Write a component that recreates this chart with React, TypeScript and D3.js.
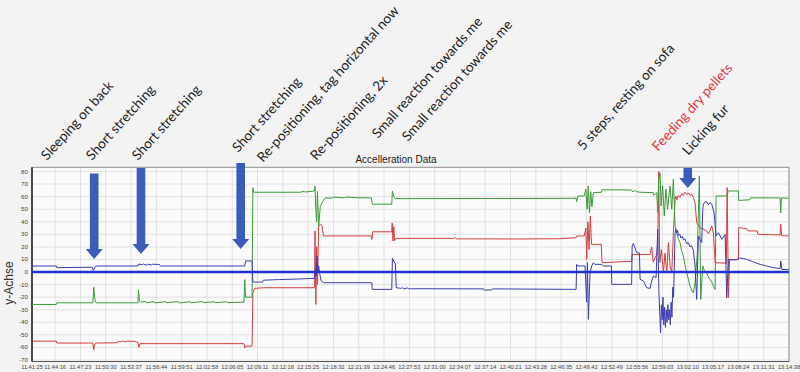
import React from "react";
import * as d3 from "d3";

// minutes after 11:41:25, value
const blueTrace: [number, number][] = [
  [0, 4.8], [3.0, 4.8], [3.05, 3.5], [7.4, 3.8], [7.55, 1.2], [7.75, 4], [8, 4.8], [13.05, 4.8], [13.15, 6.3],
  [13.6, 5.9], [13.7, 6.4], [14.1, 5.4], [14.2, 6.3], [14.7, 5.6], [14.8, 6.2], [15.7, 6], [15.8, 4.8],
  [26.2, 4.8], [26.3, 8.8], [27.1, 8.8], [27.2, -8], [28.4, -8], [28.5, -6.5], [30.5, -6], [33, -5.5], [34.8, -5],
  [34.9, 2], [35, -3], [35.1, 12.7], [35.2, 0], [35.3, 5], [35.45, -2], [35.6, -7], [35.9, -8.5], [41.85, -8.5],
  [41.9, -13.8], [44.3, -13.8], [44.38, 10.9], [44.6, 8], [44.75, 6.5], [44.85, -12.5], [45.5, -13], [45.6, -12.3],
  [45.8, -13.5], [46.2, -12.6], [46.4, -13.4], [47, -13.3], [55.6, -13.4], [55.7, -14.4], [56.6, -14.2],
  [56.7, -13.4], [67, -13.8], [67.07, 6.1], [67.2, 4.8], [68.1, 4.8], [68.3, -24], [68.4, 7.4], [68.51, -37.7],
  [68.72, -0.5], [68.92, 4.8], [69.13, 7.4], [69.3, 6.1], [70.16, 6.1], [70.36, 4.8], [71.35, 4.8], [71.39, -9.8],
  [73.84, -9.8], [73.9, 20.7], [74.05, 22.8], [74.46, 15.4], [74.8, 15], [74.88, -5.8], [75.3, -7.2], [75.7, -12.5],
  [76.11, -13], [76.3, -7.2], [76.52, -3.2], [76.85, -4.5], [77.05, 34], [77.2, -16.5], [77.4, -48.3], [77.5, -26],
  [77.6, -38], [77.7, -20], [77.8, -42], [77.9, -28], [78, -44], [78.1, -30], [78.2, -40], [78.3, -26], [78.4, -38],
  [78.5, -30], [78.6, -42], [78.7, -24], [78.8, -36], [78.9, -12], [79.0, -20], [79.19, 31.3], [79.3, 34],
  [79.39, 31], [79.5, 33], [79.6, 29], [79.8, 30], [79.9, 27], [80.1, 28.5], [80.21, 25.5], [80.4, 26.5],
  [80.62, 22.5], [80.8, 23.5], [81.03, 20], [81.2, 21], [81.44, 17.5], [81.65, 4.8], [81.85, -21.8], [82.06, 28.7],
  [82.47, 23.4], [82.6, 50], [82.68, 54], [82.9, 56], [83.09, 55.8], [83.3, 53.5], [83.5, 55.5], [83.7, 54],
  [83.99, 47.3], [84.24, 28.7], [84.53, 31.3], [84.94, 26], [85.35, 30], [85.55, -20.4], [85.76, 10.1],
  [86.78, 9.6], [86.99, 11.4], [88.01, 10.1], [88.83, 8], [89.66, 6.1], [90.48, 4.8], [91.3, 3.5], [92.12, 2.7],
  [92.2, 8.8], [92.33, 2.1], [93.15, 2],
];

const greenTrace: [number, number][] = [
  [0, -25.8], [3, -25.8], [3.05, -24.5], [7.5, -24.5], [7.6, -12], [7.75, -22], [7.9, -24.5], [13.05, -24.5],
  [13.1, -14], [13.25, -23], [13.4, -24], [14, -23.4], [14.1, -24.6], [15, -23.5], [15.1, -24.5], [16.5, -23.6],
  [16.6, -24.4], [18, -23.5], [18.1, -24.6], [19.5, -23.6], [19.6, -24.5], [21, -23.5], [21.1, -24.4],
  [22.5, -23.6], [22.6, -24.5], [24, -23.6], [24.1, -24.3], [26.1, -24], [26.2, -6], [26.3, -20], [27.1, -20],
  [27.2, 67], [27.3, 63.5], [33, 63.5], [33.5, 64.3], [33.6, 63.6], [34.8, 64.5], [34.85, 68.5], [34.95, 50],
  [35.05, 40], [35.15, 64], [35.3, 36.6], [35.5, 52], [35.7, 55], [35.9, 57], [36.1, 59], [37, 58.8],
  [37.1, 59.6], [38.5, 59], [38.6, 59.7], [40, 59.1], [41.8, 59], [41.9, 54], [44.3, 54], [44.38, 64.5],
  [44.55, 60], [44.75, 58.4], [65, 58.6], [67, 58.7], [67.07, 56], [67.2, 60.5], [68, 60.5], [68.2, 66],
  [68.35, 50], [68.5, 68.5], [68.65, 47], [68.8, 64], [68.95, 52], [69.13, 63.2], [70.1, 63.5], [70.2, 65.5],
  [73.8, 65.3], [74, 63.7], [74.2, 65], [74.4, 64], [74.9, 63.5], [76.5, 63.2], [76.6, 61], [76.93, 63.2],
  [77.05, 47.3], [77.17, 73.8], [77.34, 79], [77.46, 52.6], [77.66, 68.5], [77.86, 44.6], [78.06, 65.9],
  [78.27, 49.9], [78.47, 63.2], [78.57, 68.5], [78.78, 49.9], [78.98, 73.8], [79.19, 36.6], [79.39, 31.3],
  [79.6, 26], [79.8, 23.4], [80, 17], [80.21, 12.7], [80.4, 6], [80.62, -0.5], [80.8, -5], [81.03, -11.2],
  [81.2, -14], [81.44, -16.5], [81.65, -8.5], [81.93, 15.4], [82.18, 76.5], [82.35, -21.8], [82.6, 4.8],
  [82.8, 1], [83.09, -0.5], [83.3, -4], [83.5, -5.8], [83.7, -8], [83.91, -11.2], [84.12, -13.8], [84.24, 60.5],
  [85.55, 60.5], [85.76, 64.5], [86.99, 64.5], [87.03, 57], [88.4, 57.5], [88.5, 59], [92.12, 59], [92.2, 47],
  [92.29, 59], [93.15, 58.7],
];

const redTrace: [number, number][] = [
  [0, -55], [3, -55], [3.05, -56.5], [7.5, -56.5], [7.6, -62], [7.7, -58], [7.85, -56.5], [10.5, -56.3],
  [10.6, -55], [11, -55.6], [11.2, -54.8], [11.6, -55.5], [11.8, -54.9], [12.3, -55.4], [12.5, -55], [13.05, -56],
  [13.15, -60], [13.3, -57], [26.1, -57], [26.2, -60.5], [26.3, -59], [27.1, -59], [27.2, -16.5], [27.4, -13],
  [28.5, -12.5], [34.8, -12.5], [34.85, 32.7], [34.95, -25.8], [35.05, 20], [35.15, -10], [35.3, 36.6],
  [35.5, 38], [35.7, 37], [35.9, 28.7], [41.8, 28.7], [41.85, 26], [41.95, 32], [44.3, 32], [44.35, 39],
  [44.45, 24.7], [44.55, 36], [44.65, 25], [44.85, 26.8], [52, 26.8], [52.1, 27.5], [52.3, 26.4], [60, 26.3],
  [65, 26.5], [67, 27.3], [67.07, 28.7], [68, 28.7], [68.2, 35], [68.31, 10], [68.45, 40], [68.6, 18],
  [68.75, 44.6], [68.9, 22], [69.13, 22], [70.1, 22], [70.2, 7.4], [73.2, 8.4], [73.84, 8.4], [73.9, 14],
  [76.1, 14], [76.3, 20], [76.5, 8], [76.93, 14], [77.05, 22], [77.17, 80], [77.3, 7.4], [77.5, 18],
  [77.75, -0.5], [77.95, 15], [78.16, -0.5], [78.37, 23.4], [78.57, 4.8], [78.78, -0.5], [78.98, 31.3],
  [79.19, 57.9], [79.3, 60.5], [79.39, 57.5], [79.6, 61], [79.8, 59.5], [80, 62.5], [80.21, 61], [80.4, 63.5],
  [80.62, 61.5], [80.8, 63], [81.03, 61], [81.2, 62], [81.44, 59.5], [81.65, 55], [81.85, 39.3], [82.27, 35.3],
  [82.68, 34], [83.09, 32.7], [83.3, 30.5], [83.5, 33], [83.7, 36.6], [83.91, 31.3], [84.12, 7.4], [85.5, 7],
  [85.6, 67.2], [85.76, -20.4], [85.9, 9.6], [86.99, 10.1], [87.03, 35.3], [88.01, 34.5], [88.2, 32.7],
  [89.3, 32.7], [89.4, 30], [92.12, 29.5], [92.2, 38], [92.3, 29], [93.15, 28.7],
];

const timeTicks = [
  "11:41:25", "11:44:16", "11:47:23", "11:50:30", "11:53:37", "11:56:44", "11:59:51", "12:02:58",
  "12:06:05", "12:09:11", "12:12:18", "12:15:25", "12:18:32", "12:21:39", "12:24:46", "12:27:53",
  "12:31:00", "12:34:07", "12:37:14", "12:40:21", "12:43:28", "12:46:35", "12:49:42", "12:52:49",
  "12:55:56", "12:59:03", "13:02:10", "13:05:17", "13:08:24", "13:11:31", "13:14:38",
];
const yTicks = d3.range(-70, 81, 10);

// event notes: text, minute, baseline lift in px
const notes: [string, number, number][] = [
  ["Sleeping on back", 1.85, 0],
  ["Short stretching", 7.4, 0],
  ["Short stretching", 13.05, 0],
  ["Short stretching", 25.4, 8],
  ["Re-positioning, tag horizontal now", 28.45, -2],
  ["Re-positioning, 2x", 35.0, 0],
  ["Small reaction towards me", 42.6, 22],
  ["Small reaction towards me", 46.3, 19],
  ["5 steps, resting on sofa", 67.9, 10],
  ["Feeding dry pellets", 77.1, 9],
  ["Licking fur", 80.8, 5],
];
// arrows: minute, top value, tip value
const arrows: [number, number, number][] = [
  [7.66, 78.5, 10.3],
  [13.42, 82.8, 14.3],
  [25.7, 86.7, 18.3],
  [80.75, 82.8, 66.8],
];

const W = 800;
const H = 372;
const left = 32;
const right = 789;
const top = 167.3;
const bottom = 361.5;

const parse = d3.timeParse("%H:%M:%S");
const t0 = parse(timeTicks[0])!;
const toDate = (m: number) => new Date(t0.getTime() + m * 60000);

export default function App() {
  const x = d3.scaleTime()
    .domain([t0, parse(timeTicks[timeTicks.length - 1])!])
    .range([left, right]);
  const y = d3.scaleLinear().domain([-70, 80]).range([360, 171.5]);

  const line = d3.line<[number, number]>()
    .x((d) => x(toDate(d[0])))
    .y((d) => y(d[1]));

  const arrowPath = (m: number, v0: number, v1: number) => {
    const cx = x(toDate(m));
    const y0 = y(v0);
    const y1 = y(v1);
    const sw = 4.3;
    const hw = 8.5;
    const hl = 10;
    return `M${cx - sw},${y0}L${cx + sw},${y0}L${cx + sw},${y1 - hl}L${cx + hw},${y1 - hl}L${cx},${y1}L${cx - hw},${y1 - hl}L${cx - sw},${y1 - hl}Z`;
  };

  return (
    <div style={{ position: "absolute", left: 0, top: 0 }}>
      <svg width={W} height={H} style={{ display: "block", fontFamily: "Liberation Sans, Arial, sans-serif" }}>
        <rect width={W} height={H} fill="#f3f3f3" />
        <rect x={left} y={top} width={right - left} height={bottom - top} fill="#fbfbfb" />

        {yTicks.map((v) => (
          <line key={"gy" + v} x1={left} x2={right} y1={y(v)} y2={y(v)} stroke="#dadada" strokeWidth={0.8} />
        ))}
        {timeTicks.map((t) => (
          <line key={"gx" + t} x1={x(parse(t)!)} x2={x(parse(t)!)} y1={top} y2={bottom} stroke="#dadada" strokeWidth={0.8} />
        ))}
        <rect x={left} y={top} width={right - left} height={bottom - top} fill="none" stroke="#8f8f8f" strokeWidth={1} />
        <line x1={left} x2={left} y1={top} y2={bottom} stroke="#222" strokeWidth={1.5} />
        <line x1={left} x2={right} y1={bottom} y2={bottom} stroke="#555" strokeWidth={1} />

        {yTicks.map((v) => (
          <text key={"ty" + v} x={28} y={y(v) + 2} fontSize={6.2} textAnchor="end" fill="#444">{v}</text>
        ))}
        {timeTicks.map((t) => (
          <text key={"tx" + t} x={x(parse(t)!)} y={368.6} fontSize={5.7} textAnchor="middle" fill="#444">{t}</text>
        ))}

        <text x={396} y={163} fontSize={10} textAnchor="middle" fill="#222">Accelleration Data</text>
        <text transform="translate(13,283) rotate(-90)" fontSize={12} textAnchor="middle" fill="#333">y-Achse</text>

        <path d={line(redTrace)!} fill="none" stroke="#d43c3c" strokeWidth={1} />
        <path d={line(greenTrace)!} fill="none" stroke="#3a9a3a" strokeWidth={1} />
        <path d={line(blueTrace)!} fill="none" stroke="#3c3cb0" strokeWidth={1} />
        <line x1={left} x2={right} y1={y(0)} y2={y(0)} stroke="#1f33d4" strokeWidth={2.4} />

        {arrows.map(([m, a, b], i) => (
          <path key={"ar" + i} d={arrowPath(m, a, b)} fill="#3b5cb8" />
        ))}

        {notes.map(([txt, m, lift], i) => (
          <text
            key={"n" + i}
            transform={`translate(${x(toDate(m))},${161 - lift}) rotate(-48)`}
            fontSize={13.6}
            fontFamily="Lato, sans-serif"
            fill={txt.startsWith("Feeding") ? "#e23a3a" : "#1e1e1e"}
          >
            {txt}
          </text>
        ))}
      </svg>
    </div>
  );
}
